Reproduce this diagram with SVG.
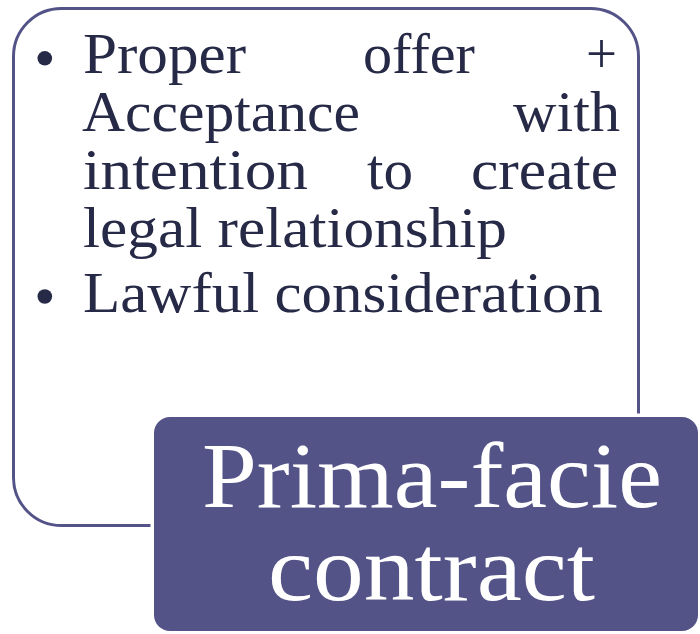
<svg xmlns="http://www.w3.org/2000/svg" width="700" height="634" viewBox="0 0 700 634">
  <style>
    .body { font-family: "Liberation Serif", "DejaVu Serif", serif; font-size: 56px; fill: #272a47; }
    .title { font-family: "Liberation Serif", "DejaVu Serif", serif; font-size: 93px; fill: #ffffff; }
    .bullet { fill: #272a47; }
  </style>
  <rect width="700" height="634" fill="#ffffff"/>
  <g id="details">
    <rect x="13.5" y="8.5" width="625" height="517" rx="48" ry="48" fill="#ffffff" stroke="#535387" stroke-width="3"/>
    <circle class="bullet" cx="44.8" cy="58.3" r="7.3"/>
    <text class="body" x="83" y="73" textLength="163" lengthAdjust="spacingAndGlyphs">Proper</text>
    <text class="body" x="363" y="73" textLength="112" lengthAdjust="spacingAndGlyphs">offer</text>
    <text class="body" x="586" y="73" textLength="31" lengthAdjust="spacingAndGlyphs">+</text>
    <text class="body" x="82" y="131" textLength="278" lengthAdjust="spacingAndGlyphs">Acceptance</text>
    <text class="body" x="513" y="131" textLength="107" lengthAdjust="spacingAndGlyphs">with</text>
    <text class="body" x="83" y="189" textLength="225" lengthAdjust="spacingAndGlyphs">intention</text>
    <text class="body" x="367" y="189" textLength="46" lengthAdjust="spacingAndGlyphs">to</text>
    <text class="body" x="471" y="189" textLength="147" lengthAdjust="spacingAndGlyphs">create</text>
    <text class="body" x="83" y="247" textLength="424" lengthAdjust="spacingAndGlyphs">legal relationship</text>
    <circle class="bullet" cx="44.8" cy="296.5" r="7.3"/>
    <text class="body" x="83" y="312" textLength="520" lengthAdjust="spacingAndGlyphs">Lawful consideration</text>
  </g>
  <g id="prima-facie-contract">
    <rect x="154" y="417" width="544" height="214" rx="16" ry="16" fill="#535388" stroke="#ffffff" stroke-width="7" paint-order="stroke"/>
    <text class="title" x="202" y="507" textLength="460" lengthAdjust="spacingAndGlyphs">Prima-facie</text>
    <text class="title" x="268" y="600" textLength="327" lengthAdjust="spacingAndGlyphs">contract</text>
  </g>
  <g id="connectors"></g>
</svg>
